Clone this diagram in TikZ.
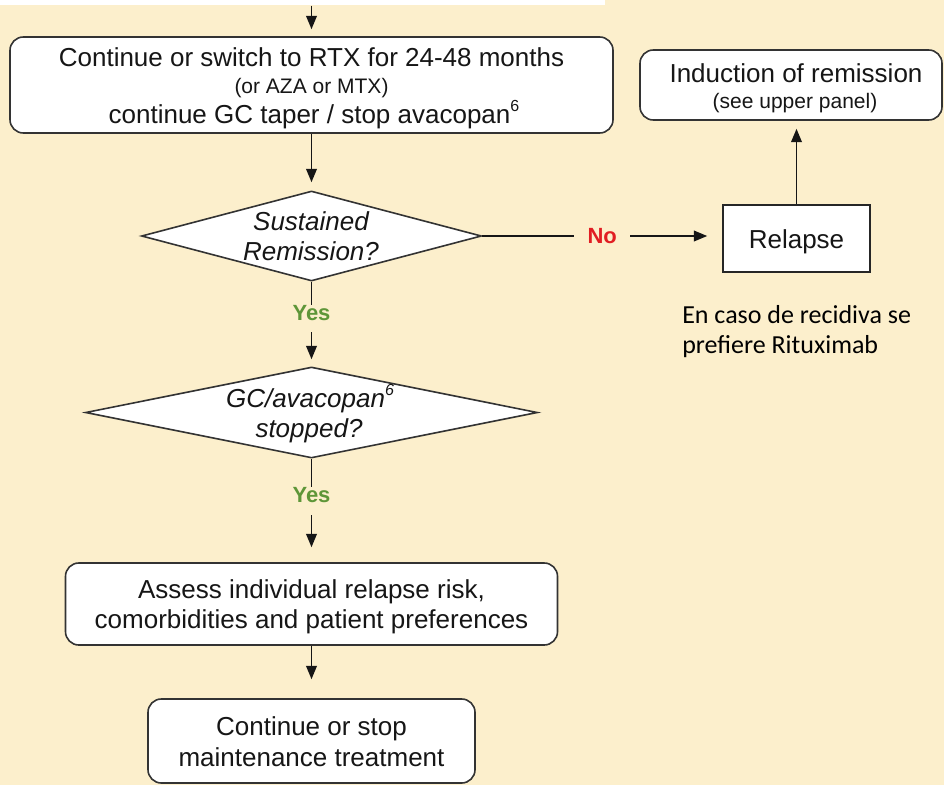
\documentclass[tikz,border=0pt]{standalone}
\usepackage{fontspec}
\setmainfont{Liberation Sans}
\newfontfamily\carlitofont{Carlito}
\usetikzlibrary{shapes.geometric,arrows.meta}
\definecolor{bgc}{HTML}{FCEFCC}
\definecolor{inkc}{HTML}{161616}
\definecolor{edgec}{HTML}{333333}
\definecolor{yesc}{HTML}{5E9638}
\definecolor{noc}{HTML}{E11E23}
\newcommand\supsix{\raisebox{0.45em}{\fontsize{12pt}{12pt}\selectfont 6}}
\begin{document}
\begin{tikzpicture}[x=0.75pt,y=-0.75pt,
  every node/.style={text=inkc},
  rbox/.style={draw=edgec, fill=white, rounded corners=10pt, line width=1.2pt, inner sep=0pt},
  sbox/.style={draw=black!85, fill=white, line width=1.2pt, inner sep=0pt},
  dbox/.style={diamond, draw=edgec, fill=white, line width=1.2pt, inner sep=0pt},
  big/.style={font=\fontsize{19.5pt}{22.5pt}\selectfont, inner sep=0pt, anchor=base},
  small/.style={font=\fontsize{15.75pt}{18pt}\selectfont, inner sep=0pt, anchor=base},
  bigit/.style={inner sep=0pt, anchor=base, font=\fontsize{19.5pt}{22.5pt}\selectfont\itshape},
  note/.style={anchor=base west, inner sep=0pt, text=black, font=\carlitofont\fontsize{19.5pt}{22.5pt}\selectfont},
  arr/.style={draw=inkc, line width=1.2pt, -{Triangle[width=8pt,length=10pt]}},
  yeslab/.style={fill=bgc, text=yesc, font=\fontsize{16.5pt}{18pt}\selectfont\bfseries, inner xsep=3pt, inner ysep=0pt, text height=11.9pt, text depth=9pt},
  nolab/.style={fill=bgc, text=noc, font=\fontsize{16.5pt}{18pt}\selectfont\bfseries, inner xsep=10pt, inner ysep=2pt},
]
\fill[bgc] (0,0) rectangle (944,785);
\useasboundingbox (0,0) rectangle (944,785);

% strip of the upper panel
\node[fill=white, inner sep=0pt, minimum width=453.75pt, minimum height=3.75pt, anchor=north west] (prev) at (0,0) {};

% box 1
\node[rbox, minimum width=452.25pt, minimum height=72pt] (box1) at (311.5,85) {};
\node[big] (t1a) at (311.5,66) {Continue or switch to RTX for 24-48 months};
\node[small] (t1b) at (311.5,93) {(or AZA or MTX)};
\node[big] (t1c) at (314,123) {continue GC taper / stop avacopan\supsix};

% diamond 1
\node[dbox, minimum width=255pt, minimum height=67.5pt] (d1) at (311.5,236) {};
\node[bigit] (t2a) at (311,230) {Sustained};
\node[bigit] (t2b) at (311,260) {Remission?};

% relapse
\node[sbox, minimum width=110.25pt, minimum height=50.25pt] (relapse) at (796.5,238.5) {};
\node[big] (t3) at (796.5,248) {Relapse};

% induction
\node[rbox, minimum width=226.5pt, minimum height=52.5pt] (induc) at (791,85) {};
\node[big] (t4a) at (796,82) {Induction of remission};
\node[small] (t4b) at (795,108) {(see upper panel)};

% note
\node[note] (n1) at (682,323) {En caso de recidiva se};
\node[note] (n2) at (682,353) {prefiere Rituximab};

% diamond 2
\node[dbox, minimum width=339pt, minimum height=68.25pt] (d2) at (311.5,412.5) {};
\node[bigit] (t5a) at (310,407) {GC/avacopan\supsix};
\node[bigit] (t5b) at (309,437) {stopped?};

% box 3
\node[rbox, minimum width=369pt, minimum height=61.5pt] (box3) at (311.5,604) {};
\node[big] (t6a) at (311.5,598) {Assess individual relapse risk,};
\node[big] (t6b) at (311.5,628) {comorbidities and patient preferences};

% box 4
\node[rbox, minimum width=245.25pt, minimum height=63pt] (box4) at (311.5,741) {};
\node[big] (t7a) at (311.5,735) {Continue or stop};
\node[big] (t7b) at (311.5,766) {maintenance treatment};

% connectors
\draw[arr, shorten >=5.25pt] (box1.north |- prev.south) -- (box1.north);
\draw[arr, shorten >=6pt] (box1.south) -- (d1.north);
\draw[arr, shorten >=11.25pt] (d1.east) -- node[nolab] (no) {No} (d1.east -| relapse.west);
\draw[arr, shorten >=6pt] (relapse.north) -- (relapse.north |- induc.south);
\draw[arr, shorten >=5.25pt] (d1.south) -- node[yeslab, pos=0.434] (yes1) {Yes} (d2.north);
\draw[arr, shorten >=11.25pt] (d2.south) -- node[yeslab, pos=0.407] (yes2) {Yes} (box3.north);
\draw[arr, shorten >=14.25pt] (box3.south) -- (box4.north);
\end{tikzpicture}
\end{document}
